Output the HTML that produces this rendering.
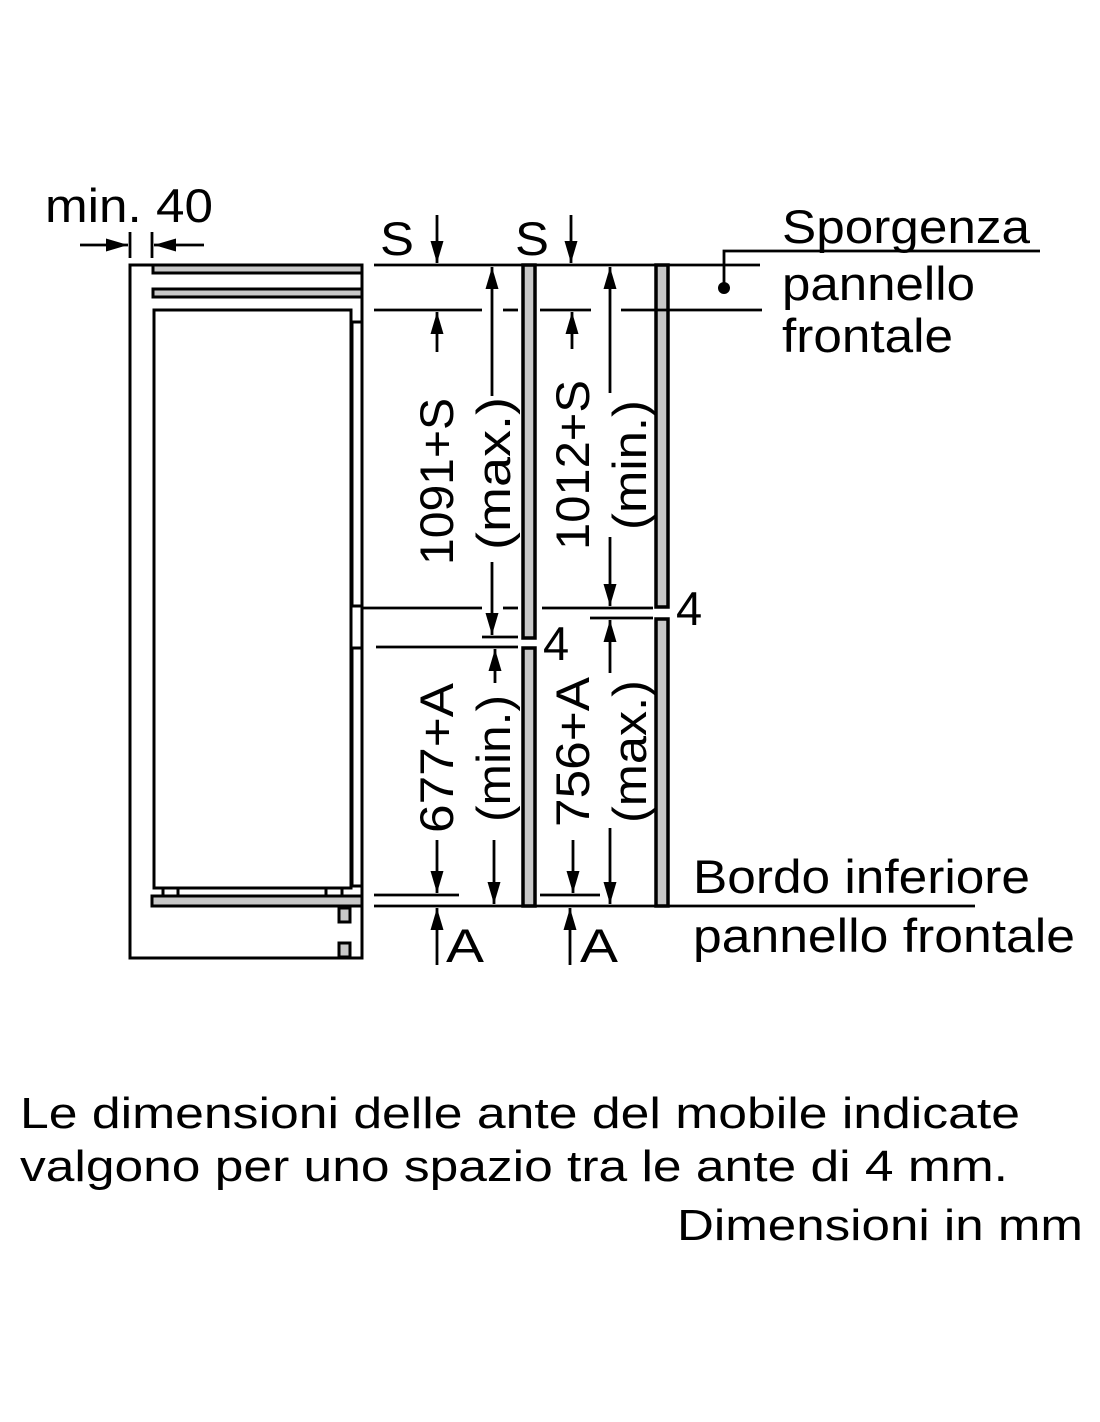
<!DOCTYPE html>
<html><head><meta charset="utf-8"><style>
html,body{margin:0;padding:0;background:#fff;}
svg{display:block;}
text{font-family:"Liberation Sans",sans-serif;fill:#000;}
</style></head><body>
<svg width="1100" height="1422" viewBox="0 0 1100 1422" xmlns="http://www.w3.org/2000/svg">
<defs>
<marker id="ah" markerUnits="userSpaceOnUse" markerWidth="22" markerHeight="13" refX="22" refY="6.5" viewBox="0 0 22 13" orient="auto">
<polygon points="0,0 22,6.5 0,13" fill="#000"/>
</marker>
</defs>
<g stroke="#000" stroke-width="3" fill="none">
<polyline points="152,265 130,265 130,958 362,958 362,265"/>
<rect x="153" y="265" width="209" height="8" fill="#c8c8c8"/>
<rect x="153" y="289" width="209" height="8" fill="#c8c8c8"/>
<rect x="154" y="310" width="197" height="578"/>
<rect x="352" y="322" width="10" height="284"/>
<rect x="352" y="648" width="10" height="238"/>
<line x1="163" y1="888" x2="163" y2="896"/><line x1="178" y1="888" x2="178" y2="896"/>
<line x1="326" y1="888" x2="326" y2="896"/><line x1="342" y1="888" x2="342" y2="896"/>
<rect x="152" y="896" width="210" height="10" fill="#c8c8c8"/>
<rect x="339" y="908" width="11" height="14" fill="#c8c8c8"/>
<rect x="339" y="943" width="11" height="14" fill="#c8c8c8"/>
<rect x="523" y="265" width="12" height="373" fill="#c8c8c8" stroke-width="3.5"/>
<rect x="523" y="648" width="12" height="258" fill="#c8c8c8" stroke-width="3.5"/>
<rect x="656" y="265" width="12" height="342" fill="#c8c8c8" stroke-width="3.5"/>
<rect x="656" y="619" width="12" height="287" fill="#c8c8c8" stroke-width="3.5"/>
</g>
<g stroke="#000" stroke-width="2.8" fill="none">
<line x1="130" y1="232" x2="130" y2="258"/><line x1="152" y1="232" x2="152" y2="258"/>
<line x1="80" y1="245" x2="128" y2="245" marker-end="url(#ah)"/>
<line x1="204" y1="245" x2="154" y2="245" marker-end="url(#ah)"/>
<line x1="374" y1="265" x2="760" y2="265"/>
<line x1="374" y1="310" x2="482" y2="310"/><line x1="503" y1="310" x2="518" y2="310"/>
<line x1="540" y1="310" x2="591" y2="310"/><line x1="621" y1="310" x2="762" y2="310"/>
<line x1="362" y1="608" x2="482" y2="608"/><line x1="503" y1="608" x2="518" y2="608"/>
<line x1="542" y1="608" x2="653" y2="608"/>
<line x1="590" y1="618" x2="653" y2="618"/>
<line x1="482" y1="637" x2="518" y2="637"/>
<line x1="376" y1="647" x2="518" y2="647"/>
<line x1="374" y1="895" x2="459" y2="895"/>
<line x1="540" y1="895" x2="600" y2="895"/>
<line x1="374" y1="906" x2="975" y2="906"/>
<line x1="437" y1="215" x2="437" y2="263" marker-end="url(#ah)"/>
<line x1="571" y1="215" x2="571" y2="263" marker-end="url(#ah)"/>
<line x1="437" y1="352" x2="437" y2="312" marker-end="url(#ah)"/>
<line x1="572" y1="349" x2="572" y2="312" marker-end="url(#ah)"/>
<line x1="492" y1="396" x2="492" y2="267" marker-end="url(#ah)"/>
<line x1="492" y1="562" x2="492" y2="635" marker-end="url(#ah)"/>
<line x1="610" y1="393" x2="610" y2="267" marker-end="url(#ah)"/>
<line x1="610" y1="537" x2="610" y2="606" marker-end="url(#ah)"/>
<line x1="495" y1="683" x2="495" y2="649" marker-end="url(#ah)"/>
<line x1="610" y1="673" x2="610" y2="620" marker-end="url(#ah)"/>
<line x1="437" y1="840" x2="437" y2="893" marker-end="url(#ah)"/>
<line x1="494" y1="840" x2="494" y2="904" marker-end="url(#ah)"/>
<line x1="573" y1="840" x2="573" y2="893" marker-end="url(#ah)"/>
<line x1="610" y1="828" x2="610" y2="904" marker-end="url(#ah)"/>
<line x1="437" y1="965" x2="437" y2="908" marker-end="url(#ah)"/>
<line x1="570" y1="965" x2="570" y2="908" marker-end="url(#ah)"/>
<polyline points="724,288 724,251 1040,251"/>
</g>
<circle cx="724" cy="288" r="6" fill="#000"/>
<g font-size="47">
<text x="45" y="222" textLength="168" lengthAdjust="spacingAndGlyphs">min. 40</text>
<text x="380" y="255" textLength="34" lengthAdjust="spacingAndGlyphs">S</text>
<text x="515" y="255" textLength="34" lengthAdjust="spacingAndGlyphs">S</text>
<text x="782" y="243" textLength="248" lengthAdjust="spacingAndGlyphs">Sporgenza</text>
<text x="782" y="300" textLength="193" lengthAdjust="spacingAndGlyphs">pannello</text>
<text x="782" y="352" textLength="171" lengthAdjust="spacingAndGlyphs">frontale</text>
<text x="543" y="660">4</text>
<text x="676" y="625">4</text>
<text x="446" y="962" textLength="38" lengthAdjust="spacingAndGlyphs">A</text>
<text x="580" y="962" textLength="38" lengthAdjust="spacingAndGlyphs">A</text>
<text x="693" y="893" textLength="337" lengthAdjust="spacingAndGlyphs">Bordo inferiore</text>
<text x="693" y="952" textLength="382" lengthAdjust="spacingAndGlyphs">pannello frontale</text>
<text transform="translate(453,565) rotate(-90)" textLength="167" lengthAdjust="spacingAndGlyphs">1091+S</text>
<text transform="translate(510,550) rotate(-90)" textLength="153" lengthAdjust="spacingAndGlyphs">(max.)</text>
<text transform="translate(589,550) rotate(-90)" textLength="170" lengthAdjust="spacingAndGlyphs">1012+S</text>
<text transform="translate(646,530) rotate(-90)" textLength="130" lengthAdjust="spacingAndGlyphs">(min.)</text>
<text transform="translate(453,833) rotate(-90)" textLength="150" lengthAdjust="spacingAndGlyphs">677+A</text>
<text transform="translate(510,822) rotate(-90)" textLength="127" lengthAdjust="spacingAndGlyphs">(min.)</text>
<text transform="translate(589,827) rotate(-90)" textLength="150" lengthAdjust="spacingAndGlyphs">756+A</text>
<text transform="translate(646,823) rotate(-90)" textLength="143" lengthAdjust="spacingAndGlyphs">(max.)</text>
</g>
<g font-size="44">
<text x="20" y="1128" textLength="1000" lengthAdjust="spacingAndGlyphs">Le dimensioni delle ante del mobile indicate</text>
<text x="20" y="1181" textLength="988" lengthAdjust="spacingAndGlyphs">valgono per uno spazio tra le ante di 4 mm.</text>
<text x="677" y="1240" textLength="406" lengthAdjust="spacingAndGlyphs">Dimensioni in mm</text>
</g>
</svg>
</body></html>
